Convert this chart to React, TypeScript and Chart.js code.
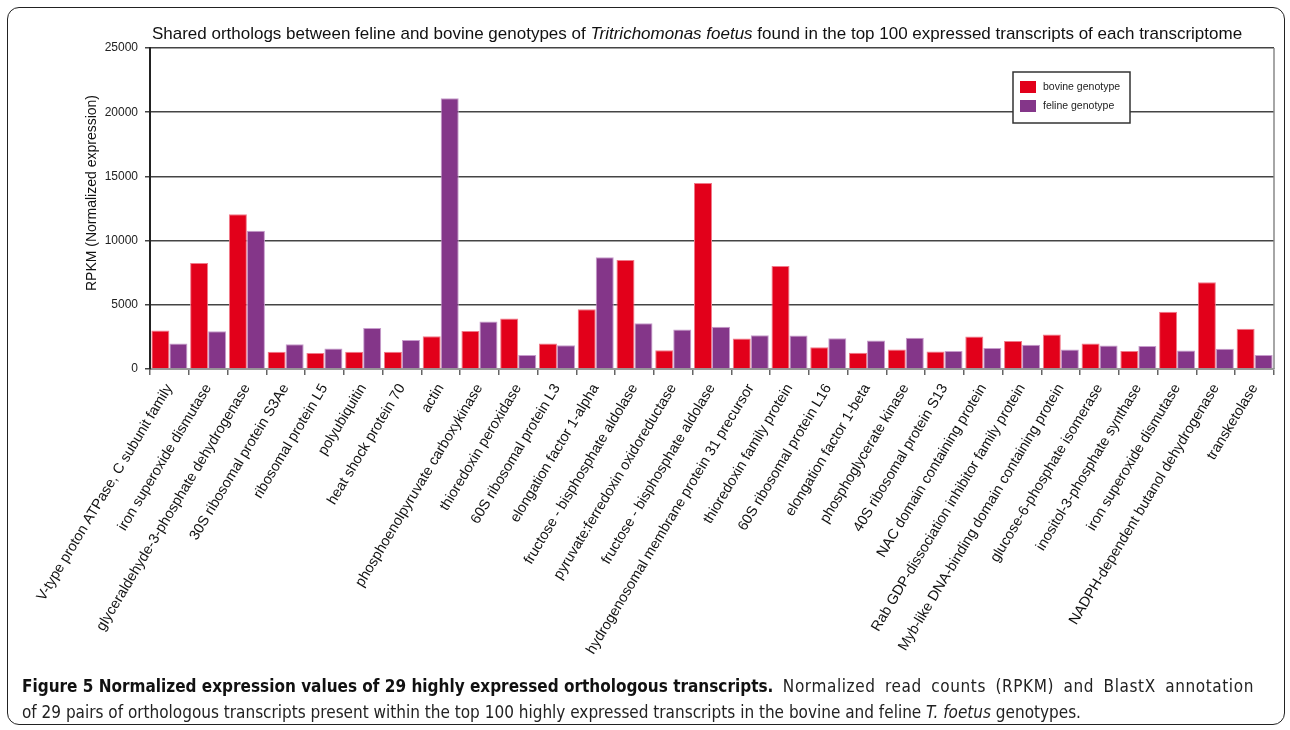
import React, { useEffect, useRef } from "react";
import { Chart, registerables } from "chart.js";
Chart.register(...registerables);

const categories = [
  "V-type proton ATPase, C subunit family",
  "iron superoxide dismutase",
  "glyceraldehyde-3-phosphate dehydrogenase",
  "30S ribosomal protein S3Ae",
  "ribosomal protein L5",
  "polyubiquitin",
  "heat shock protein 70",
  "actin",
  "phosphoenolpyruvate carboxykinase",
  "thioredoxin peroxidase",
  "60S ribosomal protein L3",
  "elongation factor 1-alpha",
  "fructose - bisphosphate aldolase",
  "pyruvate:ferredoxin oxidoreductase",
  "fructose - bisphosphate aldolase",
  "hydrogenosomal membrane protein 31 precursor",
  "thioredoxin family protein",
  "60S ribosomal protein L16",
  "elongation factor 1-beta",
  "phosphoglycerate kinase",
  "40S ribosomal protein S13",
  "NAC domain containing protein",
  "Rab GDP-dissociation inhibitor family protein",
  "Myb-like DNA-binding domain containing protein",
  "glucose-6-phosphate isomerase",
  "inositol-3-phosphate synthase",
  "iron superoxide dismutase",
  "NADPH-dependent butanol dehydrogenase",
  "transketolase",
];

const bovine = [
  3000, 8250, 12050, 1350, 1250, 1350, 1350, 2550, 2950, 3930, 1980, 4650, 8480, 1460, 14480,
  2370, 8030, 1690, 1270, 1510, 1360, 2530, 2190, 2690, 1980, 1410, 4460, 6760, 3130,
];

const feline = [
  1980, 2940, 10760, 1920, 1590, 3200, 2260, 21090, 3690, 1090, 1850, 8710, 3560, 3070, 3300,
  2630, 2600, 2390, 2210, 2430, 1410, 1640, 1880, 1510, 1830, 1800, 1440, 1570, 1100,
];

const seriesLabels = ["bovine genotype", "feline genotype"];
const yMin = 0;
const yMax = 25000;
const yStep = 5000;
const yTitle = "RPKM (Normalized expression)";
const titleParts = [
  { text: "Shared orthologs between feline and bovine genotypes of ", italic: false },
  { text: "Tritrichomonas foetus", italic: true },
  { text: " found in the top 100 expressed transcripts of each transcriptome", italic: false },
];

const RED = "#e2001a";
const PURPLE = "#843689";
const FONT = "'Liberation Sans', Arial, Helvetica, sans-serif";

const CANVAS_W = 1290;
const CANVAS_H = 700;

const decorPlugin = {
  id: "decor",
  afterDraw(chart: any) {
    const ctx = chart.ctx;
    const area = chart.chartArea;
    ctx.save();
    // right border
    ctx.strokeStyle = "#888";
    ctx.lineWidth = 1.5;
    ctx.beginPath();
    ctx.moveTo(area.right, area.top);
    ctx.lineTo(area.right, area.bottom);
    ctx.stroke();

    // title with mixed italic
    const size = 17;
    const fonts = titleParts.map((p) => `${p.italic ? "italic " : ""}${size}px ${FONT}`);
    let total = 0;
    const widths = titleParts.map((p, i) => {
      ctx.font = fonts[i];
      const w = ctx.measureText(p.text).width;
      total += w;
      return w;
    });
    let x = 697 - total / 2;
    ctx.fillStyle = "#111";
    ctx.textBaseline = "alphabetic";
    ctx.textAlign = "left";
    titleParts.forEach((p, i) => {
      ctx.font = fonts[i];
      ctx.fillText(p.text, x, 39);
      x += widths[i];
    });

    // y axis title
    ctx.save();
    ctx.translate(92, 193);
    ctx.rotate(-Math.PI / 2);
    ctx.font = `14px ${FONT}`;
    ctx.fillStyle = "#111";
    ctx.textAlign = "center";
    ctx.textBaseline = "middle";
    ctx.fillText(yTitle, 0, 0);
    ctx.restore();

    // legend
    const lx = area.right - 261;
    const ly = area.top + 24;
    const lw = 117;
    const lh = 51;
    ctx.fillStyle = "#fff";
    ctx.fillRect(lx, ly, lw, lh);
    ctx.strokeStyle = "#333";
    ctx.lineWidth = 1.5;
    ctx.strokeRect(lx, ly, lw, lh);
    const cols = [RED, PURPLE];
    ctx.font = `10.5px ${FONT}`;
    ctx.textBaseline = "middle";
    ctx.textAlign = "left";
    seriesLabels.forEach((lab, i) => {
      const sy = ly + 9 + i * 19;
      ctx.fillStyle = cols[i];
      ctx.fillRect(lx + 7, sy, 16, 12);
      ctx.fillStyle = "#222";
      ctx.fillText(lab, lx + 30, sy + 6);
    });
    ctx.restore();
  },
};

export default function App() {
  const ref = useRef<HTMLCanvasElement>(null);
  useEffect(() => {
    if (!ref.current) return;
    const chart = new Chart(ref.current, {
      type: "bar",
      data: {
        labels: categories,
        datasets: [
          {
            label: seriesLabels[0],
            data: bovine,
            backgroundColor: RED,
            borderColor: "#f07a8a",
            borderWidth: 1,
          },
          {
            label: seriesLabels[1],
            data: feline,
            backgroundColor: PURPLE,
            borderColor: "#c79ccc",
            borderWidth: 1,
          },
        ],
      },
      options: {
        responsive: false,
        animation: false,
        devicePixelRatio: 1,
        datasets: { bar: { categoryPercentage: 0.93, barPercentage: 1.0 } },
        layout: { padding: { left: 76, top: 48, right: 16, bottom: 0 } },
        plugins: {
          legend: { display: false },
          title: { display: false },
          tooltip: { enabled: false },
        },
        scales: {
          x: {
            grid: {
              offset: true,
              drawOnChartArea: false,
              drawTicks: true,
              tickLength: 6,
              color: "#666",
              lineWidth: 1.5,
            },
            border: { color: "#999", width: 2 },
            ticks: {
              autoSkip: false,
              maxRotation: 59,
              minRotation: 59,
              font: { family: FONT, size: 14.4 },
              color: "#111",
              padding: 6,
            },
            afterFit: (s: any) => {
              s.height = CANVAS_H - 369;
            },
          },
          y: {
            min: yMin,
            max: yMax,
            ticks: {
              stepSize: yStep,
              font: { family: FONT, size: 12 },
              color: "#222",
              padding: 7,
              callback: (v: any) => String(v),
            },
            grid: { color: "#444", lineWidth: 1.5, drawTicks: true, tickLength: 5 },
            border: { color: "#222", width: 2 },
            title: { display: false },
            afterFit: (s: any) => {
              s.width = 150 - 76;
            },
          },
        },
      },
      plugins: [decorPlugin],
    });
    return () => chart.destroy();
  }, []);

  const capFont = "'DejaVu Sans Condensed', 'Liberation Sans Narrow', 'DejaVu Sans', sans-serif";

  return (
    <div
      style={{
        position: "absolute",
        left: 0,
        top: 0,
        width: 1290,
        height: 730,
        background: "#fff",
        overflow: "hidden",
      }}
    >
      <div
        style={{
          position: "absolute",
          left: 7,
          top: 7,
          width: 1276,
          height: 716,
          border: "1.5px solid #222",
          borderRadius: 12,
        }}
      />
      <canvas
        ref={ref}
        width={CANVAS_W}
        height={CANVAS_H}
        style={{ position: "absolute", left: 0, top: 0, width: CANVAS_W, height: CANVAS_H }}
      />
      <div
        style={{
          position: "absolute",
          left: 22,
          top: 673,
          width: 1250,
          fontFamily: capFont,
          fontStretch: "condensed",
          fontSize: 17,
          lineHeight: "26px",
          color: "#222",
        }}
      >
        <div style={{ whiteSpace: "nowrap" }}>
          <b style={{ color: "#111" }}>
            Figure 5 Normalized expression values of 29 highly expressed orthologous transcripts.
          </b>
          <span style={{ wordSpacing: "4px", letterSpacing: "0.6px" }}>
            {" "}Normalized read counts (RPKM) and BlastX annotation
          </span>
        </div>
        <div style={{ whiteSpace: "nowrap" }}>
          of 29 pairs of orthologous transcripts present within the top 100 highly expressed
          transcripts in the bovine and feline <i>T. foetus</i> genotypes.
        </div>
      </div>
    </div>
  );
}
